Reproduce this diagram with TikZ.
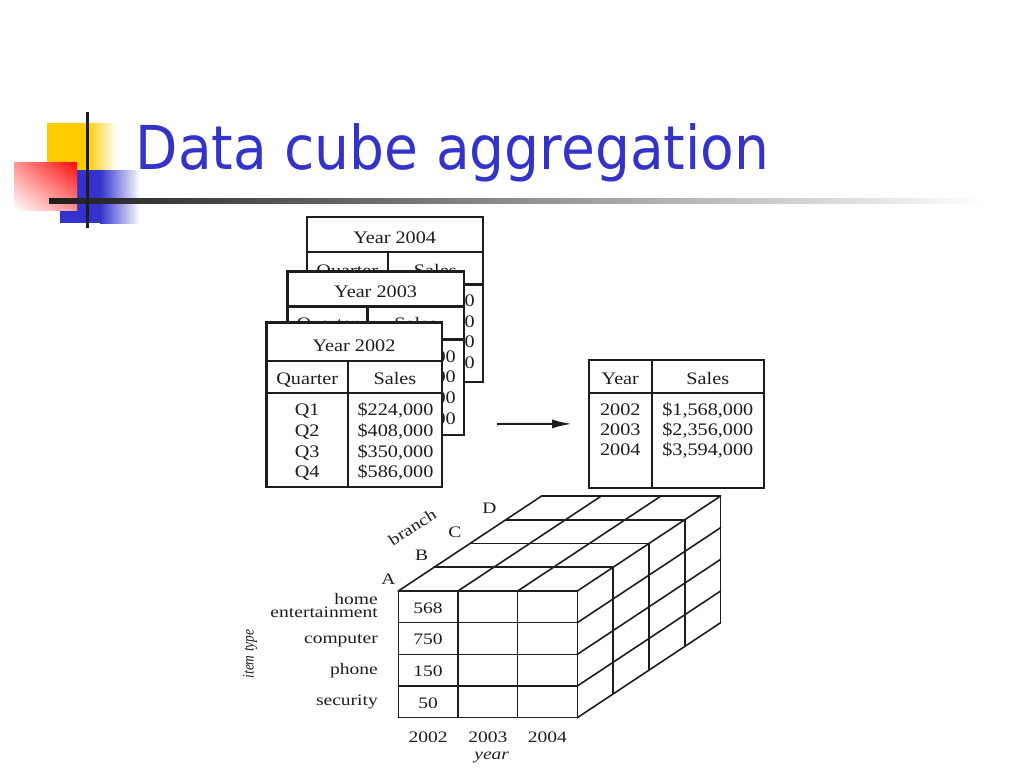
\documentclass[tikz,border=0pt]{standalone}
\usepackage{fontspec}
\setmainfont{Liberation Serif}
\newfontfamily\tabfont{Liberation Serif}[FakeStretch=1.15]
\newfontfamily\cubefont{Liberation Serif}[FakeStretch=1.22]
\newfontfamily\axisfont{Liberation Serif}[FakeStretch=0.84]
\newfontfamily\titlefont{DejaVu Sans}[FakeStretch=0.91]
\usepackage{tikz}
\usetikzlibrary{arrows.meta,shadings}
\definecolor{ink}{RGB}{30,30,30}
\definecolor{pxblue}{RGB}{51,51,204}
\definecolor{pxyellow}{RGB}{255,204,0}
\definecolor{pxred}{RGB}{255,10,10}
\newcommand{\tablinewidth}{2.4pt}
\newcommand{\cubelinewidth}{1.6pt}
\newcommand{\cellw}{59.67}
\newcommand{\cellh}{31.67}
\newcommand{\depx}{35.83}
\newcommand{\depy}{23.75}
\tikzset{
  tabframe/.style={draw=ink, line width=\tablinewidth, fill=white},
  tabrule/.style={draw=ink, line width=\tablinewidth},
  tabtext/.style={text=ink, inner sep=0pt, anchor=base, font=\tabfont\fontsize{17.6}{20.7}\selectfont},
  cubeline/.style={draw=ink, line width=\cubelinewidth, line cap=round, line join=round},
  cubetext/.style={text=ink, inner sep=0pt, font=\cubefont\fontsize{16}{19}\selectfont},
  flow/.style={draw=ink, line width=2pt, -{Latex[length=20pt,width=9pt]}},
  titletext/.style={text=pxblue, inner sep=0pt, anchor=base west, font=\titlefont\fontsize{60.5}{72}\selectfont}
}

\begin{document}
\begin{tikzpicture}[x=1pt,y=-1pt]
\fill[white] (0,0) rectangle (1024,768);
\useasboundingbox (0,0) rectangle (1024,768);
%title bar
\fill[pxyellow] (47,123) rectangle (86,170);
\shade[left color=pxyellow, right color=white] (86,123) rectangle (117,170);
\fill[pxblue] (60,170) rectangle (100,223);
\shade[left color=pxblue, right color=white] (100,170) rectangle (140,223);
\shade[upper left=pxred!45, upper right=pxred, lower left=white, lower right=pxred!45] (14,162) rectangle (77,210);
\shade[left color=ink, right color=white] (49,198.5) rectangle (985,203.5);
\draw[ink, line width=3pt] (87,112) -- (87,228);
\node[titletext] (title) at (135.5,169) {Data cube aggregation};
%2004
\draw[tabframe] (306.7,217) rectangle (482.7,381.7);
\draw[tabrule] (306.7,252) -- (482.7,252);
\draw[tabrule] (306.7,284.3) -- (482.7,284.3);
\draw[tabrule] (388,252) -- (388,381.7);
\node[tabtext] (y2004) at (394.7,243.5) {Year 2004};
\node[tabtext] (quarter2004) at (347.3,276) {Quarter};
\node[tabtext] (sales2004) at (435.3,276) {Sales};
\foreach \k in {0,...,3}
  \node[tabtext, anchor=base east] (s2004\k) at (475,{306.5+\k*20.7}) {00};
%2003
\draw[tabframe] (287.3,271.5) rectangle (464,435);
\draw[tabrule] (287.3,306.3) -- (464,306.3);
\draw[tabrule] (287.3,339.5) -- (464,339.5);
\draw[tabrule] (367.5,306.3) -- (367.5,435);
\node[tabtext] (y2003) at (375.6,297.8) {Year 2003};
\node[tabtext] (quarter2003) at (327.4,329.6) {Quarter};
\node[tabtext] (sales2003) at (415.7,329.6) {Sales};
\foreach \k in {0,...,3}
  \node[tabtext, anchor=base east] (s2003\k) at (456,{362+\k*20.7}) {00};
%2002
\draw[tabframe] (266.3,322.3) rectangle (441.7,486.7);
\draw[tabrule] (266.3,360.7) -- (441.7,360.7);
\draw[tabrule] (266.3,393) -- (441.7,393);
\draw[tabrule] (348,360.7) -- (348,486.7);
\node[tabtext] (y2002) at (354,351.7) {Year 2002};
\node[tabtext] (quarter2002) at (307.2,384) {Quarter};
\node[tabtext] (sales2002) at (394.9,384) {Sales};
\foreach \q/\s [count=\k] in {Q1/{\$224,000}, Q2/{\$408,000}, Q3/{\$350,000}, Q4/{\$586,000}}{
  \node[tabtext] (q\k) at (307.2,{415.7+(\k-1)*20.7}) {\q};
  \node[tabtext] (s\k) at (395.5,{415.7+(\k-1)*20.7}) {\s};
}
%sum over quarters
\node[tabframe, minimum width=175pt, minimum height=127.7pt, inner sep=0pt, outer sep=0pt] (sum) at (676.5,423.85) {};
\draw[tabrule] (589,393) -- (764,393);
\draw[tabrule] (651.7,360) -- (651.7,487.7);
\node[tabtext] (year) at (620.3,384) {Year};
\node[tabtext] (sales) at (707.8,384) {Sales};
\foreach \y/\s [count=\k] in {2002/{\$1,568,000}, 2003/{\$2,356,000}, 2004/{\$3,594,000}}{
  \node[tabtext] (yr\k) at (620.3,{415+(\k-1)*20.2}) {\y};
  \node[tabtext] (total\k) at (707.8,{415+(\k-1)*20.2}) {\s};
}
\coordinate (arrowtail) at (497,424);
\draw[flow, shorten >=17pt] (arrowtail) -- (sum.west);
%cube
\foreach \i in {0,...,3} \draw[cubeline] ({398.3+\i*\cellw},591) -- ++(0,{4*\cellh});
\foreach \j in {0,...,4} \draw[cubeline] (398.3,{591+\j*\cellh}) -- ++({3*\cellw},0);
\foreach \i in {0,...,3} \draw[cubeline] ({398.3+\i*\cellw},591) -- ++({4*\depx},{-4*\depy});
\foreach \k in {1,...,4} \draw[cubeline] ({398.3+\k*\depx},{591-\k*\depy}) -- ++({3*\cellw},0);
\foreach \k in {1,...,4} \draw[cubeline] ({577.3+\k*\depx},{591-\k*\depy}) -- ++(0,{4*\cellh});
\foreach \j in {1,...,4} \draw[cubeline] (577.3,{591+\j*\cellh}) -- ++({4*\depx},{-4*\depy});
\foreach \v [count=\j] in {568,750,150,50}
  \node[cubetext] (cell\j) at (428.1,{592+(\j-0.5)*\cellh}) {\v};
\node[cubetext, anchor=base east] (home) at (378,604) {home};
\node[cubetext, anchor=base east] (entertainment) at (378,617.7) {entertainment};
\node[cubetext, anchor=base east] (computer) at (378,643.3) {computer};
\node[cubetext, anchor=base east] (phone) at (378,674.5) {phone};
\node[cubetext, anchor=base east] (security) at (378,705.5) {security};
\node[text=ink, inner sep=0pt, font=\axisfont\itshape\fontsize{16}{19}\selectfont, rotate=90] (itemtype) at (250,654) {item type};
\foreach \y [count=\i] in {2002,2003,2004}
  \node[cubetext] (col\y) at ({398.3+(\i-0.5)*\cellw},737.3) {\y};
\node[cubetext, font=\cubefont\itshape\fontsize{16}{19}\selectfont] (yearaxis) at (491.7,757.3) {year};
\foreach \b/\x/\y in {A/388.3/579.3, B/421.7/555.7, C/455/532.7, D/489.3/508.3}
  \node[cubetext] (branch\b) at (\x,\y) {\b};
\node[cubetext, rotate=32.5] (branch) at (412.3,527.3) {branch};
\end{tikzpicture}
\end{document}
